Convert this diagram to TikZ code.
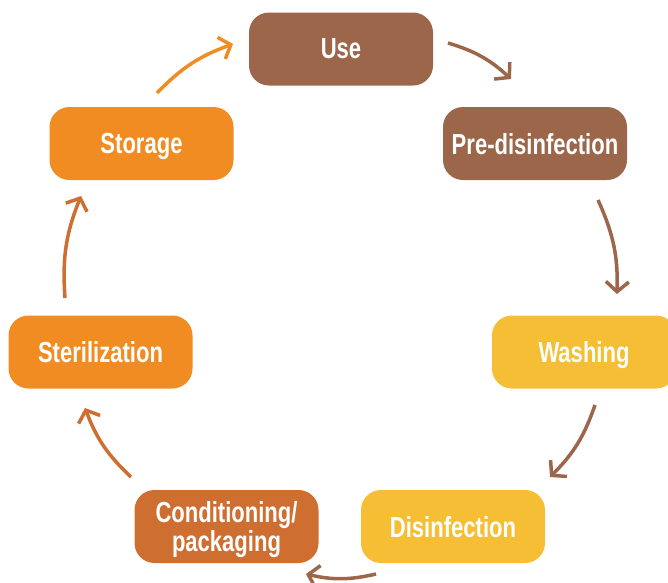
\documentclass[tikz,border=0pt]{standalone}
\usepackage{fontspec}
\setmainfont{Liberation Sans}
\newfontfamily\condfont{Liberation Sans}[FakeStretch=0.76]
\usetikzlibrary{arrows.meta}
\definecolor{cbrown}{HTML}{9C664B}
\definecolor{cyellow}{HTML}{F5BE34}
\definecolor{corange}{HTML}{F08C22}
\definecolor{crust}{HTML}{CF6E31}
\begin{document}
\begin{tikzpicture}[x=1pt,y=-1pt,
  box/.style={rounded corners=20pt, minimum width=184pt, minimum height=73pt,
    text=white, font=\condfont\bfseries\fontsize{29}{29}\selectfont,
    align=center, inner sep=0pt, text depth=0pt},
  arr/.style={line width=3.5pt, bend left=13,
    -{Straight Barb[length=10pt,width=23pt]}}]
\useasboundingbox (0,0) rectangle (668,582);
\node[box, fill=cbrown] (use) at (341,49) {Use};
\node[box, fill=cbrown] (pre) at (535,143.5) {Pre-disinfection};
\node[box, fill=cyellow] (wash) at (584,352) {Washing};
\node[box, fill=cyellow] (dis) at (453,526.5) {Disinfection};
\node[box, fill=crust] (cond) at (226.5,526.5) {Conditioning/\\packaging};
\node[box, fill=corange] (ster) at (100.5,352) {Sterilization};
\node[box, fill=corange] (stor) at (141.5,143.5) {Storage};
\coordinate (a1s) at (157,93);  \coordinate (a1e) at (233,44);
\coordinate (a2s) at (448,43);  \coordinate (a2e) at (511,79);
\coordinate (a3s) at (598,200); \coordinate (a3e) at (617,294);
\coordinate (a4s) at (595,405); \coordinate (a4e) at (550,477);
\coordinate (a5s) at (376,574); \coordinate (a5e) at (306,574);
\coordinate (a6s) at (131,477); \coordinate (a6e) at (85,408);
\coordinate (a7s) at (65,298);  \coordinate (a7e) at (81,196);
\draw[arr, corange] (a1s) to (a1e);
\draw[arr, cbrown] (a2s) to (a2e);
\draw[arr, cbrown] (a3s) to (a3e);
\draw[arr, cbrown] (a4s) to (a4e);
\draw[arr, cbrown] (a5s) to (a5e);
\draw[arr, crust] (a6s) to (a6e);
\draw[arr, crust] (a7s) to (a7e);
\end{tikzpicture}
\end{document}
